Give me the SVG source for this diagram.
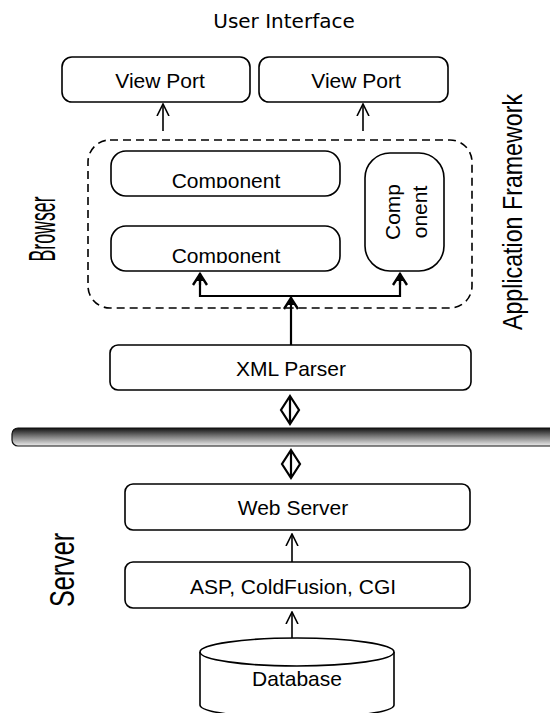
<svg xmlns="http://www.w3.org/2000/svg" width="550" height="713" viewBox="0 0 550 713">
  <defs>
    <style>
      .box { fill: #fff; stroke: #000; stroke-width: 1.6; }
      .lbl { font-family: "Liberation Sans", Arial, sans-serif; font-size: 21px; fill: #000; text-anchor: middle; }
      .side { font-family: "Liberation Sans", Arial, sans-serif; font-size: 32px; fill: #000; text-anchor: middle; }
      .line { fill: none; stroke: #000; stroke-width: 1.6; }
      .thick { fill: none; stroke: #000; stroke-width: 2.2; }
    </style>
    <!-- thin open chevron, tip at the end of the line -->
    <marker id="open" viewBox="0 0 13 14" refX="12" refY="7" markerWidth="13" markerHeight="14" markerUnits="userSpaceOnUse" orient="auto">
      <path d="M0,1 L12,7 L0,13" fill="none" stroke="#000" stroke-width="1.6"/>
    </marker>
    <!-- heavier chevron with a filled core -->
    <marker id="bold" viewBox="0 0 14 16" refX="13" refY="8" markerWidth="14" markerHeight="16" markerUnits="userSpaceOnUse" orient="auto">
      <path d="M1,1 L12,8 L1,15" fill="none" stroke="#000" stroke-width="2.4"/>
      <path d="M5,4.5 L11,8 L5,11.5 Z" fill="#000"/>
    </marker>
    <linearGradient id="bar" x1="0" y1="0" x2="0" y2="1">
      <stop offset="0" stop-color="#111"/>
      <stop offset="0.45" stop-color="#777"/>
      <stop offset="1" stop-color="#eee"/>
    </linearGradient>
    <clipPath id="clipC1"><rect x="111" y="151" width="229" height="37"/></clipPath>
    <clipPath id="clipC2"><rect x="111" y="226" width="229" height="37"/></clipPath>
  </defs>

  <text x="284" y="28" style="font-family:'DejaVu Sans',Verdana,sans-serif;font-size:20px;text-anchor:middle">User Interface</text>

  <g id="browser-label">
    <text class="side" style="font-size:37px" transform="translate(55,229) rotate(-90) scale(0.48,1)">Browser</text>
  </g>
  <g id="server-label">
    <text class="side" style="font-size:36px" transform="translate(74,570) rotate(-90) scale(0.7,1)">Server</text>
  </g>
  <g id="framework-label">
    <text class="side" style="font-size:27px" transform="translate(522,212) rotate(-90) scale(0.86,1)">Application Framework</text>
  </g>

  <g id="viewport-1">
    <rect class="box" x="62" y="57" width="188" height="45" rx="10"/>
    <text class="lbl" x="160" y="88">View Port</text>
  </g>
  <g id="viewport-2">
    <rect class="box" x="259" y="57" width="189" height="45" rx="10"/>
    <text class="lbl" x="356" y="88">View Port</text>
  </g>

  <g id="app-framework">
    <rect x="88" y="140" width="384" height="168" rx="22" fill="none" stroke="#000" stroke-width="1.6" stroke-dasharray="8,5"/>
  </g>

  <g id="component-1">
    <rect class="box" x="111" y="151" width="229" height="45" rx="15"/>
    <text class="lbl" x="226" y="188" clip-path="url(#clipC1)">Component</text>
  </g>
  <g id="component-2">
    <rect class="box" x="111" y="226" width="229" height="45" rx="15"/>
    <text class="lbl" x="226" y="263" clip-path="url(#clipC2)">Component</text>
  </g>
  <g id="component-3">
    <rect class="box" x="365" y="153" width="79" height="118" rx="25"/>
    <text class="lbl" transform="translate(400,212) rotate(-90)"><tspan x="0" y="0">Comp</tspan><tspan x="0" y="27">onent</tspan></text>
  </g>

  <g id="xml-parser">
    <rect class="box" x="110" y="345" width="361" height="45" rx="8"/>
    <text class="lbl" x="291" y="376">XML Parser</text>
  </g>

  <g id="network-bar">
    <rect x="12" y="428" width="548" height="18" rx="6" fill="url(#bar)" stroke="#111" stroke-width="1.2"/>
  </g>

  <g id="web-server">
    <rect class="box" x="125" y="484" width="345" height="46" rx="8"/>
    <text class="lbl" x="293" y="515">Web Server</text>
  </g>
  <g id="asp">
    <rect class="box" x="125" y="562" width="345" height="46" rx="8"/>
    <text class="lbl" x="293" y="594">ASP, ColdFusion, CGI</text>
  </g>

  <g id="database">
    <path class="box" d="M200,652 L200,705 A97,13 0 0 0 394,705 L394,652"/>
    <ellipse class="box" cx="297" cy="652" rx="97" ry="14"/>
    <text class="lbl" x="297" y="686">Database</text>
  </g>

  <g id="connectors">
    <line class="line" x1="163" y1="131" x2="163" y2="104" marker-end="url(#open)"/>
    <line class="line" x1="363" y1="131" x2="363" y2="104" marker-end="url(#open)"/>
    <polyline class="thick" points="200,274 200,296 400,296 400,274"/>
    <line class="thick" x1="200" y1="285" x2="200" y2="273" marker-end="url(#bold)"/>
    <line class="thick" x1="400" y1="285" x2="400" y2="273" marker-end="url(#bold)"/>
    <line class="thick" x1="291" y1="345" x2="291" y2="297" marker-end="url(#bold)"/>
    <path class="thick" d="M290,396 L299,410 L290,424 L281,410 Z M290,396 L290,424"/>
    <path class="thick" d="M291,450 L300,464 L291,478 L282,464 Z M291,450 L291,478"/>
    <line class="line" x1="292" y1="562" x2="292" y2="534" marker-end="url(#open)"/>
    <line class="line" x1="292" y1="638" x2="292" y2="612" marker-end="url(#open)"/>
  </g>
</svg>
